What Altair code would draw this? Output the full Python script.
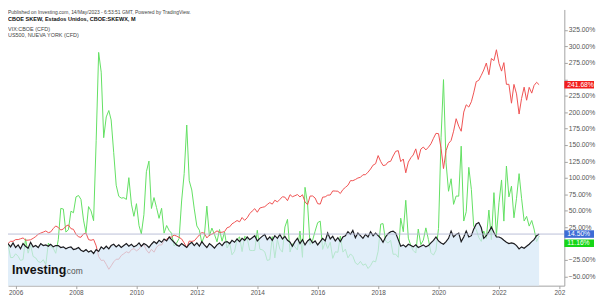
import altair as alt
import pandas as pd

# ---------------- data (percent change since Oct 2005, monthly) ----------------
START = "2005-10-01"
N_MONTHS = 212  # Oct 2005 .. May 2023

skew = [
    0, -5, 1,
    -6, -2, -8, 0, -4, -7, 2, -5, -3, -6, 0, -3,
    -2, -4, -1, -5, -3, -3, -6, -5, -8, -6, -5, -9,
    -8, -6, -10, -12, -9, -13, -11, -15, -9, -12, -5, -8,
    -4, -8, -3, -1, -5, -2, -6, -3, 0, -4, -1, -5,
    -3, 1, -4, 0, -2, -6, -1, 3, 0, 5, 2, 7,
    4, 10, 6, 2, -2, -4, 0, -3, -6, -1, 2, -3,
    1, -4, 3, -2, -6, 0, -3, -7, -2, 1, -3, 2,
    3, 0, 5, 2, 7, 3, 8, 5, 10, 6, 9, 12,
    4, 8, 11, 14, 6, 10, 5, 12, 8, 14, 7, 11,
    5, 2, -4, 3, 8, 0, 6, -2, 4, 7, 1, 4,
    -2, 3, 8, 4, 16, 7, 11, 4, 9, 3, 10, 12,
    18, 14, 20, 9, 16, 12, 8, 14, 10, 18, 12, 16,
    12, 8, 2, 10, 15, 18, 19, 16, 6, -4, -2, -5,
    -1, -3, -5, -2, -6, -4, -2, -5, -3, 1, 5, 10,
    4, 1, -1, 3, 8, 19, 10, 14, 16, 3, 10, 19,
    10, 12, 22, 30, 32, 24, 8, 12, 18, 25, 17, 10,
    10, 8, 5, 2, 0, 1, 0, -3, -8, -5, -7, -4,
    -1, 3, 6, 12, 14.5,
]

vix = [
    0, -21.3, -21.2,
    -15.5, -19.5, -25.7, -24.3, 7.3, -14.6, -2.4, -19.6, -21.8, -27.5, -28.8, -24.5,
    -32.0, 0.7, -4.4, -7.2, -14.8, 5.9, 53.5, 52.6, 17.5, 21.0, 49.3, 46.9,
    71.0, 73.2, 67.2, 35.7, 16.4, 56.3, 49.7, 34.8, 157.1, 290.9, 260.8, 161.1,
    192.7, 202.5, 188.1, 138.3, 88.8, 72.0, 69.2, 69.8, 67.2, 100.3, 60.0, 41.5,
    60.7, 27.3, 14.8, 43.9, 109.3, 125.5, 53.4, 70.0, 54.7, 38.4, 53.7, 15.9,
    27.5, 19.8, 15.8, -3.7, 0.8, 7.8, 64.8, 106.4, 180.4, 95.6, 81.5, 52.7,
    26.9, 20.3, 1.2, 11.9, 57.0, 11.5, 23.6, 14.0, 2.7, 21.4, 3.6, 17.6,
    -6.8, 1.2, -17.1, -11.7, 6.4, 10.1, -12.2, 11.0, 8.4, -10.2, -10.6, -10.4,
    20.2, -8.6, -9.4, -12.5, -25.6, -24.5, 10.6, -21.8, 6.5, -8.4, -13.0, 25.3,
    36.9, -12.9, -0.2, -5.0, -9.7, 19.0, -20.9, 85.6, 59.9, -1.6, 5.3, 18.9,
    31.9, 34.1, -8.9, 2.5, -7.4, 2.0, -22.5, -12.4, -13.3, 11.4, -13.0, -8.4,
    -21.7, -15.7, -19.3, -29.4, -32.0, -27.0, -33.0, -30.9, -37.9, -33.6, -26.4, -27.9,
    -11.6, 29.6, 30.4, 4.0, 0.7, 5.0, -16.3, -16.1, -20.9, 38.6, 18.0, 65.9,
    8.2, -3.5, -10.5, -14.4, 22.1, -1.6, 5.2, 23.9, 6.0, -13.7, -17.6, -10.1,
    23.0, 161.8, 249.5, 122.9, 79.6, 98.6, 59.7, 72.4, 72.1, 148.2, 34.3, 48.5,
    116.0, 82.4, 26.6, 21.5, 9.4, 3.3, 19.1, 7.6, 51.0, 6.1, 77.5, 12.4,
    62.1, 96.8, 34.2, 118.0, 71.0, 87.4, 39.2, 68.9, 106.4, 68.9, 34.3, 41.4,
    26.6, 35.1, 22.1, 3.0, 11.16,
]

us500 = [
    0, 3.5, 3.4,
    6.1, 6.1, 7.3, 8.6, 5.2, 5.2, 5.8, 8.0, 10.7, 14.2, 16.0, 17.5,
    19.2, 16.6, 17.7, 22.8, 26.8, 24.6, 20.6, 22.1, 26.5, 28.4, 22.7, 21.7,
    14.2, 10.2, 9.6, 14.8, 16.0, 6.0, 5.0, 6.3, -3.4, -19.7, -25.7, -25.2,
    -31.6, -39.1, -33.9, -27.7, -23.8, -23.8, -18.2, -15.4, -12.4, -14.2, -9.2, -7.6,
    -11.0, -8.5, -3.1, -1.7, -9.7, -14.6, -8.7, -13.1, -5.5, -2.0, -2.2, 4.2,
    6.6, 10.0, 9.8, 13.0, 11.4, 9.4, 7.1, 1.0, -6.3, 3.8, 3.3, 4.2,
    8.7, 13.1, 16.7, 15.8, 8.6, 12.9, 14.3, 16.5, 19.4, 17.0, 17.3, 18.2,
    24.1, 25.5, 30.0, 32.4, 35.1, 33.1, 39.7, 35.3, 39.3, 45.5, 49.6, 53.1,
    47.7, 54.1, 55.1, 56.1, 59.4, 62.4, 60.0, 66.0, 63.4, 67.2, 71.3, 70.6,
    65.3, 74.4, 71.3, 72.8, 74.6, 70.9, 74.3, 63.4, 59.1, 72.3, 72.4, 69.3,
    60.7, 60.1, 70.6, 71.1, 73.7, 73.9, 80.1, 79.9, 79.6, 76.2, 82.2, 85.5,
    88.8, 95.8, 95.7, 97.5, 99.8, 100.8, 104.7, 104.8, 108.7, 113.4, 119.4, 121.5,
    133.9, 124.8, 118.8, 119.4, 124.1, 125.2, 133.3, 140.4, 141.4, 124.7, 128.7, 107.7,
    124.0, 130.7, 134.8, 144.1, 128.0, 143.7, 146.9, 142.5, 146.6, 151.7, 160.2, 167.7,
    167.2, 144.8, 114.1, 141.3, 152.2, 156.9, 171.0, 190.0, 178.6, 170.9, 200.1, 211.2,
    207.7, 215.8, 229.2, 246.4, 248.3, 256.0, 264.1, 274.7, 256.9, 281.6, 278.4, 294.9,
    274.1, 262.4, 275.3, 242.3, 242.3, 213.6, 242.2, 227.7, 197.1, 220.8, 238.0, 218.1,
    237.7, 228.9, 240.5, 245.4, 241.68,
]

year_ticks = list(range(2006, 2025, 2))
pct_ticks = list(range(-50, 326, 25))
hidden_pct_labels = [0, 250]  # covered by the last-value boxes in the original

# ---------------- layout / style ----------------
FONT = "Liberation Sans"
W, H = 562, 279
Y_MIN, Y_MAX = -64.0, 356.2
PX = H / (Y_MAX - Y_MIN)

BLACK = "#1b1b1f"
GREEN = "#62e062"
RED = "#ef5252"
AREA = "#d6e8f7"
PRICE_LINE = "#b3b8d3"
AXIS_GRAY = "#a3a3a3"
LABEL_GRAY = "#555555"

months = pd.date_range(START, periods=N_MONTHS, freq="MS").strftime("%Y-%m-%dT00:00:00")
df = pd.DataFrame({"date": months, "skew": skew, "vix": vix, "us500": us500})

xscale = alt.Scale(domain=[alt.DateTime(year=2005, month=10, date=1),
                           alt.DateTime(year=2024, month=3, date=1)])
yscale = alt.Scale(domain=[Y_MIN, Y_MAX], nice=False, zero=False)

x_axis = alt.Axis(
    values=[alt.DateTime(year=y, month=1, date=1) for y in year_ticks],
    labelExpr="year(datum.value) == 2024 ? '202' : timeFormat(datum.value, '%Y')",
    title=None, grid=False, tickSize=3, labelFontSize=6.5, labelFont=FONT,
    labelColor=LABEL_GRAY, domainColor=AXIS_GRAY, tickColor=AXIS_GRAY,
    labelPadding=1, labelFlush=False,
)
hide_test = " || ".join(f"datum.value == {v}" for v in hidden_pct_labels)
y_axis = alt.Axis(
    orient="right", values=pct_ticks,
    labelExpr=f"({hide_test}) ? '' : format(datum.value, '.2f') + '%'",
    title=None, grid=False, tickSize=3, labelFontSize=6.8, labelFont=FONT,
    labelColor=LABEL_GRAY, domainColor=AXIS_GRAY, tickColor=AXIS_GRAY,
    labelPadding=1,
)


def Y(field):
    return alt.Y(field, scale=yscale, axis=y_axis, title=None)


X = alt.X("date:T", scale=xscale, axis=x_axis, title=None)

base = alt.Chart(df)

green_line = base.mark_line(color=GREEN, strokeWidth=1).encode(x=X, y=Y("vix:Q"))
red_line = base.mark_line(color=RED, strokeWidth=1).encode(x=X, y=Y("us500:Q"))
area = base.mark_area(color=AREA, opacity=0.72).encode(
    x=X, y=Y("skew:Q"), y2=alt.datum(Y_MIN))
black_line = base.mark_line(color=BLACK, strokeWidth=1.2).encode(x=X, y=Y("skew:Q"))

price_line = alt.Chart(pd.DataFrame({"v": [skew[-1]]})).mark_rule(
    color=PRICE_LINE, strokeWidth=0.9).encode(
    y=Y("v:Q"), x=alt.value(0), x2=alt.value(W))

# price labels on the right axis
BOX_HALF = 3.8 / PX
GAP = 9.3 / PX
lab_vals = [us500[-1], skew[-1], vix[-1]]
lab_pos = [us500[-1], skew[-1], skew[-1] - GAP]
lab_col = ["#f21d1d", "#3c6cd6", "#16d616"]
labels = pd.DataFrame({
    "pos": lab_pos,
    "top": [p + BOX_HALF for p in lab_pos],
    "bot": [p - BOX_HALF for p in lab_pos],
    "txt": [f"{v:.2f}%" for v in lab_vals],
    "col": lab_col,
})
label_boxes = alt.Chart(labels).mark_rect().encode(
    x=alt.value(W), x2=alt.value(W + 30),
    y=Y("top:Q"), y2="bot:Q",
    color=alt.Color("col:N", scale=None))
label_text = alt.Chart(labels).mark_text(
    align="left", baseline="middle", color="white", fontSize=6.8, font=FONT).encode(
    x=alt.value(W + 3), y=Y("pos:Q"), text="txt:N")


def txt(s, x, y, size, weight="normal", color="#333333", baseline="middle"):
    return alt.Chart(pd.DataFrame({"t": [s]})).mark_text(
        align="left", baseline=baseline, fontSize=size, fontWeight=weight,
        color=color, font=FONT).encode(x=alt.value(x), y=alt.value(y), text="t:N")


header = [
    txt("Published on Investing.com, 14/May/2023 - 6:53:51 GMT, Powered by TradingView.",
        0, 2.5, 5, color="#444444"),
    txt("CBOE SKEW, Estados Unidos, CBOE:SKEWX, M", 0, 9.5, 5.6, weight="bold", color="#111111"),
    txt("VIX:CBOE (CFD)", 0, 20, 5.5, color="#444444"),
    txt("US500, NUEVA YORK (CFD)", 0, 26, 5.5, color="#444444"),
    txt("Investing", 4, 267, 12.5, weight="bold", color="#111111", baseline="alphabetic"),
    txt(".com", 57, 267, 8.5, color="#555555", baseline="alphabetic"),
]

chart = alt.layer(
    green_line, red_line, area, black_line, price_line,
    label_boxes, label_text, *header,
).properties(
    width=W, height=H,
    autosize=alt.AutoSizeParams(type="none"),
    padding={"left": 0, "top": 0, "right": 33, "bottom": 11},
    background="white",
).configure_view(stroke=None)

chart.save("out.html", embed_options={"renderer": "svg", "actions": False})
